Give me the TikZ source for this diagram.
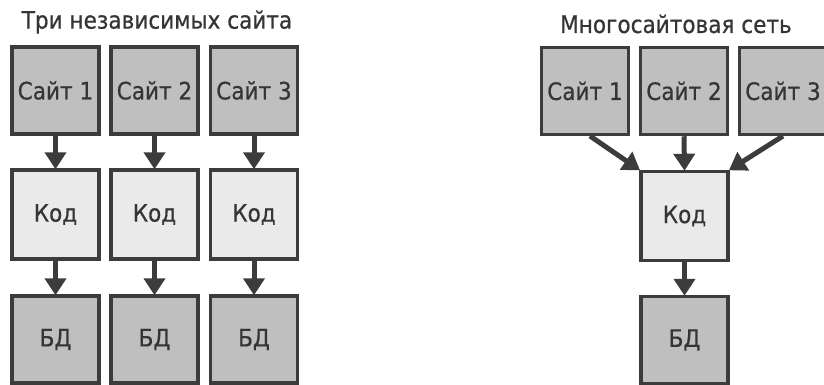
\documentclass[tikz,border=0pt]{standalone}
\usepackage{fontspec}
\setmainfont{DejaVu Sans Condensed}[FakeBold=0.6]
\usetikzlibrary{arrows.meta}
\definecolor{siteFill}{HTML}{BFBFBF}
\definecolor{codeFill}{HTML}{EAEAEA}
\definecolor{edgeCol}{HTML}{3C3C3C}
\definecolor{txtCol}{HTML}{353535}
\tikzset{
  boxbase/.style={draw=edgeCol, line width=3.5pt, minimum width=87pt, minimum height=87pt, inner sep=0pt, text=txtCol, font=\fontsize{24}{27}\selectfont},
  sitebox/.style={boxbase, fill=siteFill},
  codebox/.style={boxbase, fill=codeFill, minimum height=89pt},
  dbbox/.style={boxbase, fill=siteFill},
  titletext/.style={text=txtCol, font=\fontsize{24}{27}\selectfont, inner sep=0pt},
  flow/.style={draw=edgeCol, line width=5pt, -{Triangle[width=21pt,length=17pt]}, shorten >=-1pt}
}
\begin{document}
\begin{tikzpicture}[x=1pt,y=-1pt]
\useasboundingbox (0,0) rectangle (824,385);
\fill[white] (0,0) rectangle (824,385);
% left group
\node[titletext] (tl) at (157,22) {Три независимых сайта};
\node[sitebox] (s1) at (55.5,90.5) {Сайт 1};
\node[sitebox] (s2) at (154.5,90.5) {Сайт 2};
\node[sitebox] (s3) at (254,90.5) {Сайт 3};
\node[codebox] (c1) at (55.5,214.5) {Код};
\node[codebox] (c2) at (154.5,214.5) {Код};
\node[codebox] (c3) at (254,214.5) {Код};
\node[dbbox] (d1) at (55.5,339.5) {БД};
\node[dbbox] (d2) at (154.5,339.5) {БД};
\node[dbbox] (d3) at (254,339.5) {БД};
\foreach \i in {1,2,3}{
  \draw[flow] (s\i.south) -- (c\i.north);
  \draw[flow] (c\i.south) -- (d\i.north);
}
% right group
\node[titletext] (tr) at (676,24) {Многосайтовая сеть};
\node[sitebox] (m1) at (585,91) {Сайт 1};
\node[sitebox] (m2) at (684,91) {Сайт 2};
\node[sitebox] (m3) at (783,91) {Сайт 3};
\node[codebox] (mc) at (684.5,216) {Код};
\node[dbbox] (md) at (684.5,340) {БД};
\coordinate (m1s) at (590,136);
\coordinate (m3s) at (783,136);
\draw[flow] (m1s) -- (mc.north west);
\draw[flow] (m2.south) -- (mc.north);
\draw[flow] (m3s) -- (mc.north east);
\draw[flow] (mc.south) -- (md.north);
\end{tikzpicture}
\end{document}
